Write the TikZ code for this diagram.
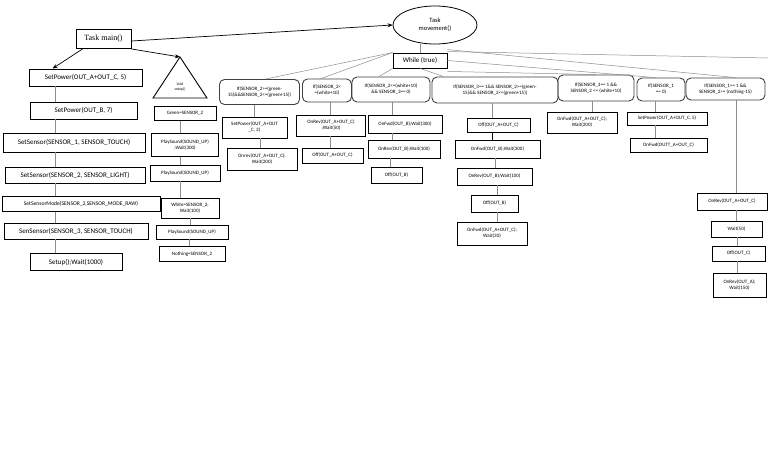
\documentclass[tikz,border=0pt]{standalone}
\usepackage{fontspec}
\setmainfont{Carlito}
\newfontfamily\tms{Liberation Serif}
\usetikzlibrary{arrows.meta,shapes.geometric,calc}
\begin{document}
\begin{tikzpicture}[x=1pt,y=-1pt,
 bx/.style={draw=black,line width=0.9pt,inner sep=0.5pt,align=center,font=\fontsize{5}{6}\selectfont},
 lbx/.style={bx,font=\fontsize{7}{8}\selectfont},
 rb/.style={draw=black!75,line width=0.9pt,rounded corners=5pt,inner sep=0.5pt,align=center,font=\fontsize{5}{6}\selectfont},
 ln/.style={draw=black!45,line width=0.5pt},
 arr/.style={draw=black,line width=0.7pt,-{Stealth[length=5pt,width=4pt]}},
 sz/.style 2 args={minimum width=#1pt,minimum height=#2pt},
]
\useasboundingbox[fill=white] (0,0) rectangle (768,466);

% top
\node[bx,sz={55}{19},font=\tms\fontsize{8}{9}\selectfont] (main) at (103.5,39) {Task main()};
\node[ellipse,draw=black,line width=0.8pt,sz={84}{38},inner sep=0pt,align=center,font=\fontsize{6.5}{8}\selectfont] (mov) at (435,25) {Task\\movement()};
\node[bx,sz={54}{15},font=\fontsize{7}{8}\selectfont] (wh) at (420,60.5) {While (true)};
\draw[ln] (wh.north) -- (wh.north |- mov.south);

% left column
\node[lbx,sz={113}{17}] (m1) at (85.5,77.5) {SetPower(OUT\_A+OUT\_C, 5)};
\node[lbx,sz={107}{17}] (m2) at (83.5,110.5) {SetPower(OUT\_B, 7)};
\node[lbx,sz={142}{19}] (m3) at (74,142.5) {SetSensor(SENSOR\_1, SENSOR\_TOUCH)};
\node[lbx,sz={140}{16}] (m4) at (75,175) {SetSensor(SENSOR\_2, SENSOR\_LIGHT)};
\node[bx,sz={158}{15},font=\fontsize{5.6}{7}\selectfont] (m5) at (81,204) {SetSensorMode(SENSOR\_2,SENSOR\_MODE\_RAW)};
\node[lbx,sz={144}{16}] (m6) at (76,231) {SenSensor(SENSOR\_3, SENSOR\_TOUCH)};
\node[lbx,sz={92}{17}] (m7) at (76,262) {Setup();Wait(1000)};
\coordinate (lx) at (55,0);
\foreach \a/\b in {m1/m2,m2/m3,m3/m4,m4/m5,m5/m6,m6/m7}
  \draw[ln] (\a.south -| lx) -- (\b.north -| lx);

% arrows from main
\coordinate (tri) at (180,57);
\draw[arr] ([yshift=-2pt]main.east) -- (mov.west);
\draw[arr] (main.south east) -- (tri);
\draw[arr] ([xshift=7pt]main.south west) -- ([xshift=24pt]m1.north west);

% triangle column
\draw[black,line width=0.9pt] (tri) -- (207,98) -- (153,98) -- cycle;
\node[font=\fontsize{3.8}{4.6}\selectfont,align=center,inner sep=0pt] (vs) at (180,87) {Void\\setup()};
\node[bx,sz={62}{14}] (t1) at (185,113.5) {Green=SENSOR\_2};
\node[bx,sz={67}{23}] (t2) at (185,145) {PlaySound(SOUND\_UP)\\;Wait(300)};
\node[bx,sz={70}{16}] (t3) at (185,173) {PlaySound(SOUND\_UP)};
\node[bx,sz={58}{20}] (t4) at (190,208) {White=SENSOR\_2;\\Wait(100)};
\node[bx,sz={72}{14}] (t5) at (192,232) {PlaySound(SOUND\_UP)};
\node[bx,sz={66}{15}] (t6) at (192,254) {Nothing=SENSOR\_2};
\draw[ln] ([xshift=-5pt]t1.south) -- ([xshift=-5pt]t1.south |- t2.north);
\draw[ln] ([xshift=-5pt]t2.south) -- ([xshift=-5pt]t2.south |- t3.north);
\draw[ln] ([xshift=-5pt]t3.south) -- ([xshift=-5pt]t3.south |- t4.north);
\draw[ln] (t4.south) -- (t4.south |- t5.north);
\draw[ln] ([xshift=-3pt]t5.south) -- ([xshift=-3pt]t5.south |- t6.north);

% if row
\node[rb,sz={80}{25}] (i1) at (259.5,92) {If(SENSOR\_2>=(green-\\15)\&\&SENSOR\_2<=(green+15))};
\node[rb,sz={49}{23}] (i2) at (327,90.5) {If(SENSOR\_2<\\=(white+10)};
\node[rb,sz={78}{25}] (i3) at (391,89.5) {If(SENSOR\_2<=(white+10)\\\&\& SENSOR\_3== 0)};
\node[rb,sz={126}{26}] (i4) at (495,90) {If(SENSOR\_3== 1\&\& SENSOR\_2>=(green-\\15)\&\& SENSOR\_2<=(green+15))};
\node[rb,sz={76}{26}] (i5) at (596,88) {If(SENSOR\_3== 1 \&\&\\SENSOR\_2 <= (white+10)};
\node[rb,sz={48}{23}] (i6) at (661,89.5) {If(SENSOR\_1\\== 0)};
\node[rb,sz={79}{22}] (i7) at (725.5,89) {If(SENSOR\_1== 1 \&\&\\SENSOR\_2>= (nothing-15)};

% while connectors
\coordinate (off) at (768,58);
\draw[ln] (wh.north west) -- ([xshift=6pt]i1.north);
\draw[ln] (wh.north west) -- ([xshift=-6pt]i2.north);
\draw[ln] (wh.south west) -- ([xshift=-12pt]i3.north);
\draw[ln] (wh.south) -- ([xshift=12pt]i4.north west);
\draw[ln] ([yshift=1pt]wh.north east) -- (off);
\draw[ln] ([yshift=3pt]wh.north east) -- ([xshift=10pt]i7.north);
\draw[ln] (wh.east) -- ([xshift=-6pt]i6.north);
\draw[ln] ([yshift=-3pt]wh.south east) -- (i5.north);

% children of i1
\node[bx,sz={65}{21}] (a1) at (254.5,127.5) {SetPower(OUT\_A+OUT\\\_C, 3)};
\node[bx,sz={70}{22}] (a2) at (262,159) {Onrev(OUT\_A+OUT\_C);\\Wait(200)};
\draw[ln] (a1.north) -- (a1.north |- i1.south);
\draw[ln] ([xshift=-2pt]a2.north) -- ([xshift=-2pt]a2.north |- a1.south);
% children of i2
\node[bx,sz={69}{21}] (b1) at (331,125.5) {OnRev(OUT\_A+OUT\_C)\\;Wait(50)};
\node[bx,sz={61}{15}] (b2) at (332.5,155.5) {Off(OUT\_A+OUT\_C)};
\draw[ln] ([xshift=-1pt]b1.north) -- ([xshift=-1pt]b1.north |- i2.south);
\draw[ln] ([xshift=-1pt]b1.south) -- ([xshift=-1pt]b1.south |- b2.north);
% children of i3
\node[bx,sz={74}{18}] (c1) at (405,124) {OnFwd(OUT\_B);Wait(300)};
\node[bx,sz={72}{18}] (c2) at (404,149) {OnRev(OUT\_B);Wait(100)};
\node[bx,sz={51}{16}] (c3) at (396.5,175) {Off(OUT\_B)};
\draw[ln] ([xshift=1pt]i3.south) -- ([xshift=1pt]i3.south |- c1.north);
\draw[ln] ([xshift=1pt]i3.south |- c1.south) -- ([xshift=1pt]i3.south |- c2.north);
\draw[ln] ([xshift=-1pt]i3.south |- c2.south) -- ([xshift=-1pt]i3.south |- c3.north);
% children of i4
\node[bx,sz={63}{14}] (d1) at (498.5,125) {Off(OUT\_A+OUT\_C)};
\node[bx,sz={85}{18}] (d2) at (497.5,149) {OnFwd(OUT\_B);Wait(300)};
\node[bx,sz={75}{17}] (d3) at (494.5,176.5) {OnRev(OUT\_B);Wait(100)};
\node[bx,sz={47}{17}] (d4) at (494.5,203.5) {Off(OUT\_B)};
\node[bx,sz={70}{23}] (d5) at (492,233.5) {OnFwd(OUT\_A+OUT\_C);\\Wait(30)};
\draw[ln] ([xshift=-3pt]i4.south) -- ([xshift=-3pt]i4.south |- d1.north);
\draw[black,line width=0.7pt] ([xshift=-3pt]i4.south |- d1.south) -- ([xshift=-3pt]i4.south |- d2.north);
\draw[ln] (i4.south |- d2.south) -- (i4.south |- d3.north);
\draw[ln] ([xshift=2pt]i4.south |- d3.south) -- ([xshift=2pt]i4.south |- d4.north);
\draw[ln] ([xshift=2pt]i4.south |- d4.south) -- ([xshift=2pt]i4.south |- d5.north);
% child of i5
\node[bx,sz={70}{21}] (e1) at (582,122.5) {OnFwd(OUT\_A+OUT\_C);\\Wait(200)};
\draw[ln] ([xshift=-4pt]i5.south) -- ([xshift=-4pt]i5.south |- e1.north);
% children of i6
\node[bx,sz={80}{13}] (f1) at (667,118.5) {SetPower(OUT\_A+OUT\_C, 5)};
\node[bx,sz={77}{14}] (f2) at (668.5,145.5) {OnFwd(OUTT\_A+OUT\_C)};
\draw[ln] ([xshift=-6pt]i6.south) -- ([xshift=-6pt]i6.south |- f1.north);
\draw[ln] ([xshift=-6pt]i6.south |- f1.south) -- ([xshift=-6pt]i6.south |- f2.north);
% children of i7
\node[bx,sz={70}{17}] (g1) at (732,201.5) {OnRev(OUT\_A+OUT\_C)};
\node[bx,sz={51}{16}] (g2) at (736.5,229) {Wait(50)};
\node[bx,sz={53}{15}] (g3) at (738.5,253.5) {Off(OUT\_C)};
\node[bx,sz={53}{24}] (g4) at (739.5,285) {OnRev(OUT\_A);\\Wait(150)};
\draw[ln] ([xshift=11pt]i7.south) -- ([xshift=11pt]i7.south |- g1.north);
\draw[ln] ([xshift=11pt]i7.south |- g1.south) -- ([xshift=11pt]i7.south |- g2.north);
\draw[ln] ([xshift=12pt]i7.south |- g2.south) -- ([xshift=12pt]i7.south |- g3.north);
\draw[ln] ([xshift=12pt]i7.south |- g3.south) -- ([xshift=12pt]i7.south |- g4.north);
\end{tikzpicture}
\end{document}
